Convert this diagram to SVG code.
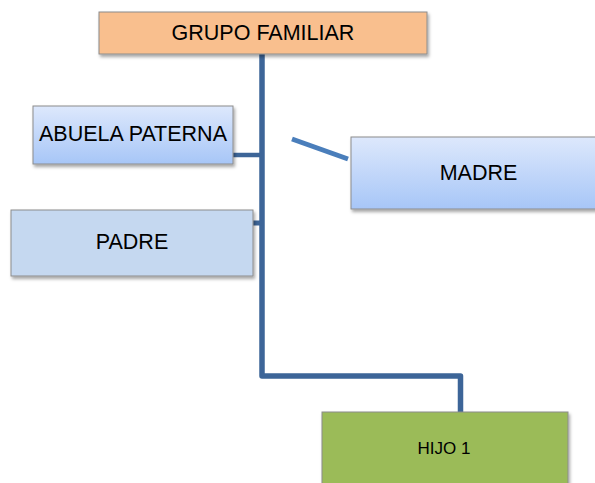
<svg xmlns="http://www.w3.org/2000/svg" width="595" height="483" viewBox="0 0 595 483">
<defs>
<linearGradient id="blueGrad" x1="0" y1="0" x2="0" y2="1">
<stop offset="0" stop-color="#DDE8FC"/>
<stop offset="1" stop-color="#A7C6F7"/>
</linearGradient>
<filter id="shadow" x="-10%" y="-20%" width="120%" height="150%">
<feDropShadow dx="1.5" dy="2.5" stdDeviation="1.5" flood-color="#000" flood-opacity="0.35"/>
</filter>
</defs>
<style>
.box{stroke:#8C8C8C;stroke-width:1;filter:url(#shadow);}
.lbl{font-family:"Liberation Sans",Arial,sans-serif;font-size:21.5px;fill:#000;text-anchor:middle;}
.lblc{font-family:"Liberation Sans",Arial,sans-serif;font-size:17px;fill:#000;text-anchor:middle;}
.trunk{stroke:#3D6598;stroke-width:5.5;fill:none;stroke-linejoin:round;}
.side{stroke:#4A7EBB;stroke-width:5;fill:none;}
</style>
<g id="connectors">
<path class="trunk" d="M262 54 V376 H460.5 V412"/>
<path class="trunk" d="M233 155 H262" style="stroke-width:4.5"/>
<path class="trunk" d="M253 223 H262" style="stroke-width:5"/>
<path class="side" d="M292 139 L348 159"/>
</g>
<g id="grupo">
<rect class="box" x="99" y="12" width="328" height="42" fill="#F9BF8E"/>
<text class="lbl" x="263" y="39.5">GRUPO FAMILIAR</text>
</g>
<g id="abuela">
<rect class="box" x="33" y="106" width="200" height="58" fill="url(#blueGrad)"/>
<text class="lbl" x="133" y="141">ABUELA PATERNA</text>
</g>
<g id="padre">
<rect class="box" x="11" y="210" width="242" height="66" fill="#C5D8F0"/>
<text class="lbl" x="132" y="249">PADRE</text>
</g>
<g id="madre">
<rect class="box" x="351" y="137" width="255" height="72" fill="url(#blueGrad)"/>
<text class="lbl" x="478.5" y="180">MADRE</text>
</g>
<g id="hijo1">
<rect class="box" x="322" y="412" width="246" height="80" fill="#9BBB59"/>
<text class="lblc" x="444" y="454">HIJO 1</text>
</g>
</svg>
